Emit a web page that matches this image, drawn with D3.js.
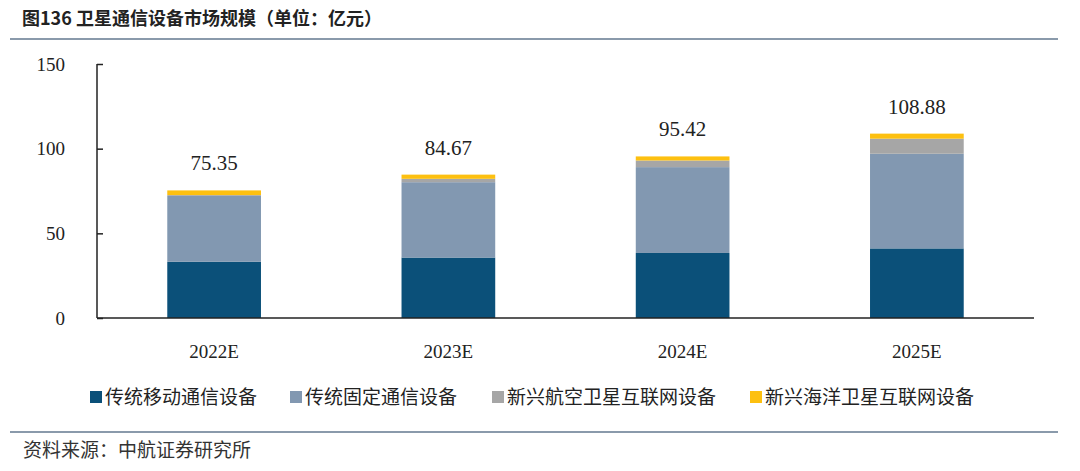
<!DOCTYPE html>
<html>
<head>
<meta charset="utf-8">
<script src="https://cdn.jsdelivr.net/npm/d3@7"></script>
<style>
  body { margin: 0; background: #fff; }
  svg { display: block; }
</style>
</head>
<body>
<script>
var years = ['2022E', '2023E', '2024E', '2025E'];
var seriesNames = ['传统移动通信设备', '传统固定通信设备', '新兴航空卫星互联网设备', '新兴海洋卫星互联网设备'];
var mobile = [33.2, 35.7, 38.4, 41.1];
var fixed = [38.9, 44.5, 50.7, 55.9];
var aviation = [0.5, 2.0, 3.9, 8.9];
var ocean = [2.75, 2.47, 2.42, 2.98];
var totals = ['75.35', '84.67', '95.42', '108.88'];
var yTicks = [0, 50, 100, 150];
var colors = ['#0b5079', '#8298b1', '#a6a6a6', '#fdc010'];

var W = 1080, H = 471;
var margin = {top: 64, left: 97, right: 46, bottom: 154};

var svg = d3.select('body').append('svg')
    .attr('width', W)
    .attr('height', H);

// title + rules
svg.append('text')
    .attr('x', 22).attr('y', 25)
    .style('font-family', '"Noto Sans CJK SC", sans-serif')
    .style('font-weight', '700')
    .style('font-size', '18px')
    .style('fill', '#222')
    .text('图136  卫星通信设备市场规模（单位：亿元）');

svg.append('line')
    .attr('x1', 10).attr('x2', 1058).attr('y1', 39).attr('y2', 39)
    .attr('stroke', '#8a9aab').attr('stroke-width', 2);

svg.append('line')
    .attr('x1', 10).attr('x2', 1058).attr('y1', 432).attr('y2', 432)
    .attr('stroke', '#8a9aab').attr('stroke-width', 2);

svg.append('text')
    .attr('x', 23).attr('y', 457)
    .style('font-family', '"Noto Sans CJK SC", sans-serif')
    .style('font-size', '19px')
    .style('fill', '#333')
    .text('资料来源：中航证券研究所');

var data = years.map(function(y, i) {
  return {year: y, s0: mobile[i], s1: fixed[i], s2: aviation[i], s3: ocean[i], total: totals[i]};
});

var x = d3.scaleBand()
    .domain(years)
    .range([margin.left, W - margin.right])
    .paddingInner(0.6)
    .paddingOuter(0.3);

var y = d3.scaleLinear()
    .domain([0, 150])
    .range([H - margin.bottom + 1, margin.top]);

var stack = d3.stack().keys(['s0', 's1', 's2', 's3']);
var layers = stack(data);

var g = svg.append('g');

g.selectAll('g.layer')
    .data(layers)
  .enter().append('g')
    .attr('class', 'layer')
    .attr('fill', function(d, i) { return colors[i]; })
  .selectAll('rect')
    .data(function(d) { return d; })
  .enter().append('rect')
    .attr('x', function(d) { return x(d.data.year); })
    .attr('width', x.bandwidth())
    .attr('y', function(d) { return y(d[1]); })
    .attr('height', function(d) { return y(d[0]) - y(d[1]); });

// totals above bars
g.selectAll('text.total')
    .data(data)
  .enter().append('text')
    .attr('class', 'total')
    .attr('x', function(d) { return x(d.year) + x.bandwidth() / 2; })
    .attr('y', function(d) { return y(d.s0 + d.s1 + d.s2 + d.s3) - 20; })
    .attr('text-anchor', 'middle')
    .style('font-family', '"Liberation Serif", serif')
    .style('font-size', '21px')
    .style('fill', '#222')
    .text(function(d) { return d.total; });

// axes
var yAxis = svg.append('g')
    .attr('transform', 'translate(' + margin.left + ',0)')
    .call(d3.axisRight(y).tickValues(yTicks).tickSize(6).tickFormat(d3.format('d')));
yAxis.select('.domain').attr('stroke', '#222').attr('stroke-width', 1.5)
    .attr('d', 'M0,' + y(150) + 'V' + y(0));
yAxis.selectAll('.tick line').attr('stroke', '#222').attr('stroke-width', 1.5);
yAxis.selectAll('.tick text')
    .attr('x', -32)
    .attr('text-anchor', 'end')
    .style('font-family', '"Liberation Serif", serif')
    .style('font-size', '19px')
    .style('fill', '#222');

var xAxis = svg.append('g')
    .attr('transform', 'translate(0,' + y(0) + ')')
    .call(d3.axisBottom(x).tickSize(0));
xAxis.select('.domain').attr('stroke', '#222').attr('stroke-width', 1.5)
    .attr('d', 'M' + margin.left + ',0H' + (W - margin.right));
xAxis.selectAll('.tick text')
    .attr('dy', 0)
    .attr('y', 40)
    .style('font-family', '"Liberation Serif", serif')
    .style('font-size', '19px')
    .style('fill', '#222');

// legend
var legendX = [90, 290, 492, 750];
var legend = svg.append('g').selectAll('g')
    .data(seriesNames)
  .enter().append('g')
    .attr('transform', function(d, i) { return 'translate(' + legendX[i] + ',391)'; });
legend.append('rect')
    .attr('width', 12).attr('height', 12)
    .attr('fill', function(d, i) { return colors[i]; });
legend.append('text')
    .attr('x', 15).attr('y', 13)
    .style('font-family', '"Noto Sans CJK SC", sans-serif')
    .style('font-size', '19px')
    .style('fill', '#222')
    .text(function(d) { return d; });
</script>
</body>
</html>
